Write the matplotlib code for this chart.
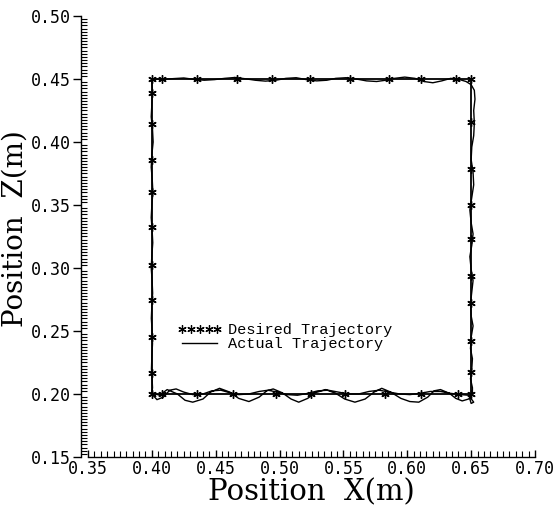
import matplotlib
matplotlib.use("Agg")
import matplotlib.pyplot as plt
from matplotlib.lines import Line2D
from matplotlib.ticker import MultipleLocator, FormatStrFormatter

# Desired square path (corners) and the sample points marked with stars
desired_corner_x = [0.40, 0.65, 0.65, 0.40, 0.40]
desired_corner_z = [0.20, 0.20, 0.45, 0.45, 0.20]

star_bottom_x = [0.400, 0.408, 0.435, 0.4635, 0.497, 0.5244, 0.5516, 0.5826, 0.611, 0.6397, 0.650]
star_right_z = [0.4157, 0.3789, 0.3497, 0.3231, 0.2939, 0.2723, 0.2419, 0.2178]
star_top_x = [0.650, 0.638, 0.611, 0.586, 0.555, 0.524, 0.494, 0.4668, 0.4357, 0.408, 0.400]
star_left_z = [0.4386, 0.4146, 0.3856, 0.3604, 0.3326, 0.3023, 0.2745, 0.2455, 0.2164]

# Measured end-effector path: first pass along the bottom
act_bottom1_x = [0.400, 0.406, 0.412, 0.420, 0.426, 0.432, 0.440, 0.446, 0.453, 0.461,
                 0.468, 0.476, 0.484, 0.490, 0.495, 0.502, 0.509, 0.515, 0.522, 0.528,
                 0.536, 0.544, 0.551, 0.559, 0.567, 0.574, 0.580, 0.587, 0.595, 0.602,
                 0.609, 0.616, 0.621, 0.626, 0.633, 0.638, 0.643, 0.648, 0.651]
act_bottom1_z = [0.2010, 0.1990, 0.2035, 0.2000, 0.1950, 0.1935, 0.1960, 0.2015, 0.2045, 0.2015,
                 0.1965, 0.1940, 0.1975, 0.2025, 0.2040, 0.2010, 0.1960, 0.1935, 0.1965, 0.2010,
                 0.2035, 0.2005, 0.1960, 0.1935, 0.1960, 0.2015, 0.2045, 0.2015, 0.1965, 0.1940,
                 0.1935, 0.1975, 0.2025, 0.2035, 0.2005, 0.1965, 0.1945, 0.1960, 0.2000]

# right side, going up
act_right_x = [0.6510, 0.6495, 0.6505, 0.6510, 0.6495, 0.6500, 0.6515, 0.6500, 0.6495, 0.6505,
               0.6515, 0.6500, 0.6490, 0.6505, 0.6515, 0.6500, 0.6490, 0.6505, 0.6520, 0.6515,
               0.6500, 0.6505, 0.6520, 0.6525, 0.6520, 0.6530, 0.6525, 0.6500, 0.6460]
act_right_z = [0.205, 0.212, 0.220, 0.228, 0.236, 0.245, 0.254, 0.262, 0.272, 0.281,
               0.290, 0.299, 0.309, 0.318, 0.327, 0.336, 0.346, 0.356, 0.366, 0.376,
               0.386, 0.396, 0.405, 0.415, 0.425, 0.434, 0.441, 0.4455, 0.448]

# top side, going left
act_top_x = [0.641, 0.634, 0.627, 0.620, 0.613, 0.606, 0.598, 0.590, 0.583, 0.576,
             0.568, 0.560, 0.552, 0.544, 0.537, 0.529, 0.521, 0.513, 0.505, 0.497,
             0.489, 0.481, 0.473, 0.465, 0.457, 0.449, 0.441, 0.433, 0.425, 0.417,
             0.409, 0.402, 0.400]
act_top_z = [0.4495, 0.4505, 0.4485, 0.4470, 0.4480, 0.4505, 0.4515, 0.4505, 0.4490, 0.4480,
             0.4485, 0.4500, 0.4510, 0.4505, 0.4490, 0.4485, 0.4495, 0.4510, 0.4505, 0.4490,
             0.4483, 0.4490, 0.4502, 0.4512, 0.4505, 0.4495, 0.4490, 0.4497, 0.4508, 0.4503,
             0.4497, 0.4500, 0.4490]

# left side, going down
act_left_x = [0.4005, 0.4000, 0.3995, 0.4005, 0.4010, 0.4000, 0.3995, 0.4003, 0.4008, 0.4000,
              0.3995, 0.4002, 0.4007, 0.4000, 0.3995, 0.4002, 0.4006, 0.4000, 0.3996, 0.4002,
              0.4005, 0.4000, 0.3997, 0.4002, 0.4005, 0.4000]
act_left_z = [0.440, 0.430, 0.420, 0.410, 0.400, 0.390, 0.380, 0.370, 0.360, 0.350,
              0.340, 0.330, 0.320, 0.310, 0.300, 0.290, 0.280, 0.270, 0.260, 0.250,
              0.240, 0.230, 0.220, 0.212, 0.205, 0.200]

# second pass along the bottom
act_bottom2_x = [0.404, 0.409, 0.414, 0.419, 0.425, 0.432, 0.440, 0.447, 0.454, 0.461,
                 0.468, 0.476, 0.484, 0.491, 0.498, 0.506, 0.514, 0.522, 0.530, 0.538,
                 0.546, 0.554, 0.562, 0.570, 0.578, 0.586, 0.594, 0.602, 0.610, 0.618,
                 0.626, 0.634, 0.642, 0.648, 0.652, 0.650, 0.649]
act_bottom2_z = [0.1955, 0.1975, 0.2030, 0.2040, 0.2015, 0.1995, 0.2000, 0.2025, 0.2030, 0.2010,
                 0.1995, 0.2000, 0.2020, 0.2030, 0.2015, 0.1995, 0.1990, 0.2005, 0.2025, 0.2030,
                 0.2015, 0.2000, 0.2000, 0.2020, 0.2030, 0.2015, 0.2000, 0.1995, 0.2005, 0.2020,
                 0.2020, 0.2005, 0.1995, 0.1990, 0.1935, 0.1925, 0.1960]

actual_x = act_bottom1_x + act_right_x + act_top_x + act_left_x + act_bottom2_x
actual_z = act_bottom1_z + act_right_z + act_top_z + act_left_z + act_bottom2_z

star_x = (star_bottom_x + [0.65] * len(star_right_z) + star_top_x + [0.40] * len(star_left_z))
star_z = ([0.20] * len(star_bottom_x) + star_right_z + [0.45] * len(star_top_x) + star_left_z)

x_ticks = [0.35, 0.40, 0.45, 0.50, 0.55, 0.60, 0.65, 0.70]
z_ticks = [0.15, 0.20, 0.25, 0.30, 0.35, 0.40, 0.45, 0.50]

fig = plt.figure(figsize=(5.57, 5.09), dpi=100)
ax = fig.add_axes([0.158, 0.1022, 0.8025, 0.8664])

star = (6, 2, 0)
ax.plot(desired_corner_x, desired_corner_z, color="black", lw=1.3)
ax.plot(star_x, star_z, linestyle="none", marker=star, markersize=6,
        markeredgewidth=1.0, color="black")
ax.plot(actual_x, actual_z, color="black", lw=1.0)

ax.set_xlim(0.35, 0.70)
ax.set_ylim(0.15, 0.50)
ax.set_xticks(x_ticks)
ax.set_yticks(z_ticks)
ax.xaxis.set_minor_locator(MultipleLocator(0.005))
ax.yaxis.set_minor_locator(MultipleLocator(0.0025))
ax.xaxis.set_major_formatter(FormatStrFormatter("%.2f"))
ax.yaxis.set_major_formatter(FormatStrFormatter("%.2f"))

for side in ("top", "right"):
    ax.spines[side].set_visible(False)
for side in ("left", "bottom"):
    ax.spines[side].set_linewidth(1.0)
ax.spines["left"].set_position(("outward", 5))

ax.tick_params(axis="y", which="major", direction="out", length=6, width=1, pad=1)
ax.tick_params(axis="y", which="minor", direction="in", length=4, width=0.8)
ax.tick_params(axis="x", which="major", direction="in", length=5, width=1, pad=2)
ax.tick_params(axis="x", which="minor", direction="in", length=4, width=0.8)
for lab in ax.get_xticklabels() + ax.get_yticklabels():
    lab.set_fontfamily("DejaVu Sans Mono")
    lab.set_fontsize(12)

ax.set_xlabel("Position  X(m)", family="DejaVu Serif", fontsize=21)
ax.set_ylabel("Position  Z(m)", family="DejaVu Serif", fontsize=20)
ax.xaxis.set_label_coords(0.5, -0.048)
ax.yaxis.set_label_coords(-0.132, 0.519)

handles = [
    Line2D([], [], linestyle="none", marker=star, markersize=6, markeredgewidth=0.9, color="black"),
    Line2D([], [], color="black", lw=1.0),
]
ax.legend(handles, ["Desired Trajectory", "Actual Trajectory"],
          loc="center left", bbox_to_anchor=(0.17, 0.272), frameon=False,
          numpoints=5, handlelength=2.9, handletextpad=0.4, labelspacing=0.0,
          prop={"family": "Liberation Mono", "size": 11})

fig.savefig("out.png", dpi=100)
